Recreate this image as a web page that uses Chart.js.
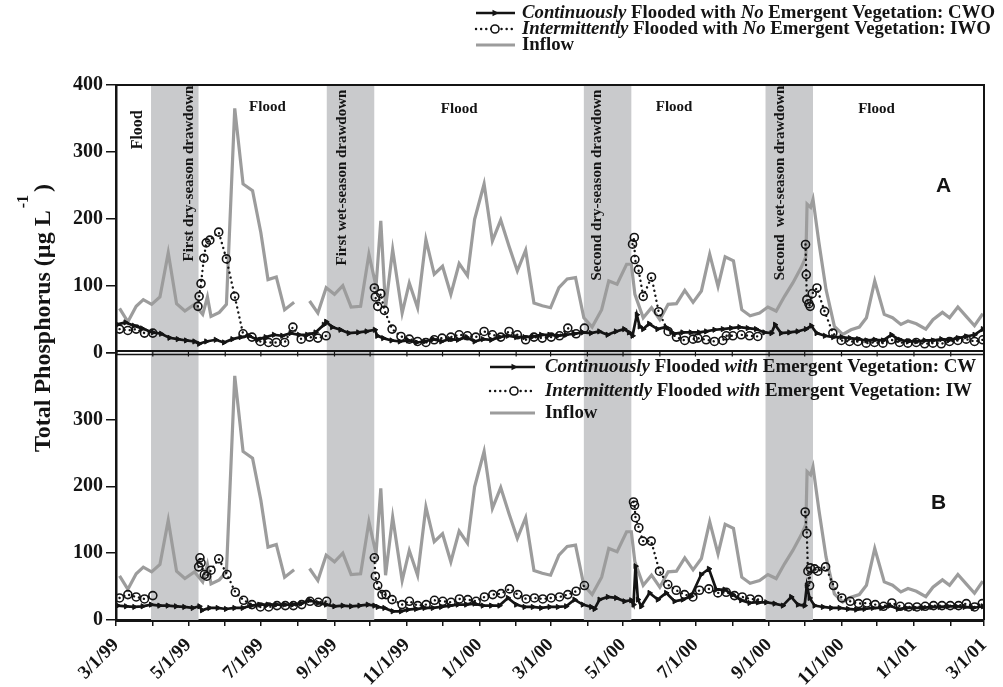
<!DOCTYPE html>
<html><head><meta charset="utf-8">
<script src="https://cdn.jsdelivr.net/npm/chart.js@4.4.0/dist/chart.umd.min.js"></script>
<style>html,body{margin:0;padding:0;background:#fff;}canvas{display:block;}</style>
</head><body>
<canvas id="c" width="1003" height="687"></canvas>
<script>
// ---- x axis: days since 3/1/99 ----
const monthTicks = [0,31,61,92,122,153,184,214,245,275,306,337,366,397,427,458,488,519,550,580,611,641,672,703,731];
const dateLabels = ['3/1/99','5/1/99','7/1/99','9/1/99','11/1/99','1/1/00','3/1/00','5/1/00','7/1/00','9/1/00','11/1/00','1/1/01','3/1/01'];
const yTicks = [0,50,100,150,200,250,300,350,400];
// drawdown periods (day ranges)
const drawdowns = [[29.5,69.5],[177.5,217.5],[394,434],[547,587]];

// ---- series: [day, total P (µg/L)] ----
const inflow = [[3,66],[10,46],[17,69],[23,79],[30,72],[37,83],[44,149],[51,73],[58,62],[66,72],[73,57],[77,83],[80,54],[87,60],[93,72],[100,365],[107,252],[115,242],[122,179],[128,109],[135,113],[142,64],[150,75],[156,null],[163,77],[170,59],[177,97],[184,87],[191,100],[198,68],[206,69],[213,147],[219,99],[223,197],[227,67],[233,154],[241,59],[247,104],[254,67],[261,169],[268,117],[275,129],[282,87],[289,133],[296,115],[302,199],[310,252],[317,167],[324,198],[331,159],[338,122],[345,153],[352,74],[359,70],[366,67],[373,97],[380,110],[387,112],[394,52],[401,38],[409,64],[415,107],[422,102],[430,132],[434,132],[437,87],[444,52],[451,67],[458,49],[465,72],[472,73],[479,93],[486,75],[493,92],[500,147],[507,99],[513,143],[520,137],[527,64],[534,55],[542,59],[549,68],[556,62],[563,84],[570,104],[577,127],[581,143],[582,222],[585,217],[587,229],[592,164],[598,94],[605,39],[612,27],[619,34],[626,38],[632,52],[639,107],[647,57],[654,52],[661,42],[667,47],[674,43],[682,35],[688,49],[696,60],[702,52],[709,68],[716,54],[723,40],[730,58]];

const cwo = [[1,42],[8,45],[15,40],[22,36],[31,30],[38,28],[45,22],[52,20],[59,18],[66,16.5],[70,13],[76,16.5],[84,19],[91,15],[98,20],[105,23],[112,25],[119,19],[126,23],[133,26.5],[140,25],[147,29],[154,26.5],[161,26.5],[168,30],[175,41.5],[177,46],[182,38],[189,34],[196,29],[204,30],[211,31.5],[218,34],[220,25],[225,21.5],[232,18],[239,16.5],[246,18],[253,15],[260,16.5],[267,20],[274,16.5],[281,20],[288,19],[295,23],[302,16.5],[309,20],[316,19],[323,23],[330,25],[337,23],[344,23],[351,24],[358,26.5],[365,26.5],[372,25],[379,26.5],[386,28],[393,30],[400,29],[407,31.5],[414,26.5],[421,31.5],[428,35],[432,30],[435,25],[438.6,56.5],[441,39],[444,35],[449,43],[456,35],[463,38],[470,28],[477,30],[484,30],[491,30],[497,31.5],[504,34],[511,35],[518,36.5],[525,38],[532,36.5],[539,35],[546,30],[552,29],[555,41.5],[560,29],[567,30],[574,31.5],[581,35],[585.5,40],[590,29],[597,25],[604,23],[611,23],[618,21.5],[625,20],[632,18],[639,19],[646,18],[653,26.5],[660,19],[667,16.5],[674,16.5],[681,18],[688,18],[695,20],[702,19],[709,21.5],[716,24],[723,26.5],[730,35]];

const iwo = [[3,35],[10,33],[17,35],[24,29],[31,29],[40,null],[69,69],[70,84],[71.6,103],[74,141],[76,164],[79,168],[86.5,180],[93,140],[100,84],[107,28],[114.5,23],[121.5,16.5],[128.5,15],[135,15],[142,15],[149,38],[156,20],[163,23],[170,21.5],[177,25],[195,null],[217.6,96.5],[218.4,83],[220.4,69],[223,88],[226,63],[232.5,35],[240,24],[247,20],[254,16.5],[261,15],[268,19],[274.6,21.5],[282,23],[289,26.5],[296,25],[303,23],[310,31.5],[317,26.5],[324,23],[331,31.5],[338,26.5],[345,19],[352,23],[359,21.5],[366.5,23],[373.5,25],[380.5,36.5],[387.5,28],[394.5,36.5],[415,null],[435,162],[436.5,172],[437,139],[440,124],[444,84],[451,113],[457,61],[465,31.5],[472,23],[479,18],[486,20],[490,21.5],[497,19],[504,16.5],[511,18],[514,25],[519.5,25],[526.5,26.5],[533.5,25],[540.5,24],[560,null],[580.7,161.5],[581.3,116.5],[581.8,79],[583.5,73],[584.6,69],[586.3,88],[590.3,96.5],[596.7,61.5],[603.7,29],[610.8,18],[617.8,16.5],[624.8,16.5],[631.8,14],[638.8,15],[645.9,14],[652.9,19],[659.9,15],[666.9,14],[673.9,15],[681,13],[688,14],[695,13],[702,16.5],[709,18],[716,20],[723,16.5],[730,19]];

const cw = [[1.4,21.5],[8.4,20.5],[15.4,19.5],[22.4,20.5],[29.5,23],[36.5,21.5],[43.5,21.5],[50.5,20.5],[57.5,19.5],[64.6,18],[70.2,20.5],[72.4,14.5],[78.6,18],[85.6,18],[92.6,16.5],[99.7,18],[106.7,18],[113.7,21.5],[120.7,23],[127.7,23],[134.8,23],[141.8,23],[148.8,23],[155.8,24.5],[162.8,29.5],[169.9,25.5],[176.9,23],[183.9,20.5],[190.9,21.5],[198,20.5],[205,21.5],[212,23],[217.6,21.5],[220.4,19.5],[226,18],[233,13],[240,13],[245.7,15.5],[252.7,16.5],[259.8,18],[266.8,18],[273.8,19.5],[280.8,21.5],[287.8,23],[294.9,23],[301.9,24.5],[308.9,21.5],[315.9,21.5],[322.9,21.5],[330,33],[337,23],[344,19.5],[351,19.5],[358,18],[365.1,19.5],[372.1,19.5],[379.1,20.5],[386.1,30.5],[393.1,23],[400.2,19.5],[403,16.5],[407.2,30.5],[414.2,34.5],[421.2,33],[428.2,28],[433.9,29.5],[435.8,23],[437.5,80.5],[439.5,30.5],[442.3,20.5],[449.3,40.5],[456.3,30.5],[463.3,40.5],[470.4,28],[477.4,30.5],[484.4,35.5],[492.8,68],[499.3,76.5],[505.5,45.5],[512.5,45.5],[519.5,38],[526.5,29.5],[533.5,25.5],[540.6,26.5],[547.6,26.5],[554.6,24.5],[561.6,21.5],[568.6,34.5],[574.3,23],[579.9,21.5],[581.8,51.5],[584.1,33],[588.3,21.5],[595.3,19.5],[602.3,18],[609.4,18],[616.4,16.5],[623.4,15.5],[630.4,16.5],[637.4,18],[644.5,18],[651.5,21.5],[658.5,16.5],[665.5,18],[672.5,18],[679.6,18],[686.6,19.5],[693.6,19.5],[700.6,20.5],[707.6,20.5],[714.7,19.5],[721.7,18],[730.1,20.5]];

const iw = [[3,33],[10,38],[17,34.5],[24,31.5],[31,36.5],[40,null],[69.6,79.5],[70.7,93],[71.6,85.5],[74.4,68],[76.4,65.5],[80,74.5],[86.5,91.5],[93.5,68],[100.5,41.5],[107.5,29.5],[114.5,23],[121.6,19.5],[128.6,19.5],[135.6,21.5],[142.6,21.5],[149.4,21.5],[156.4,23],[163.4,28],[170.4,26.5],[177.4,28],[195,null],[217.6,93],[218.4,65.5],[220.4,51.5],[224,38],[227.4,38],[232.5,30.5],[240.9,23],[247.1,28],[254.1,21.5],[261.2,23],[268.2,29.5],[275.2,28],[282.2,26.5],[289.2,31.5],[296.3,30.5],[303.3,28],[310.3,34.5],[317.3,38],[324.3,39.5],[331.4,46.5],[338.4,38],[345.4,31.5],[352.4,33],[359.4,31.5],[366.5,33],[373.5,34.5],[380.5,38],[387.5,43],[394.5,51.5],[415,null],[435.8,176.5],[436.7,171.5],[437.5,153],[440.3,138],[443.7,118],[450.7,118],[457.7,73],[464.7,53],[471.8,44.5],[478.8,38],[485.8,34.5],[491.4,44.5],[499.3,46.5],[506.9,40.5],[513.9,41.5],[520.9,36.5],[527.4,34.5],[534.1,31.5],[541.1,30.5],[560,null],[580.4,161.5],[581.8,129.5],[582.7,73],[584.1,51.5],[584.7,78],[588.3,76.5],[591.1,73],[597.6,79.5],[604.3,51.5],[611.3,33],[618.3,28],[625.4,24.5],[632.4,25.5],[639.4,23],[646.4,20.5],[653.4,25.5],[660.5,20.5],[667.5,19.5],[674.5,19.5],[681.5,20.5],[688.5,21.5],[695.6,21.5],[702.6,21.5],[709.6,21.5],[716.1,24.5],[723.1,19.5],[729.5,24.5]];

// ---- text ----
const legendA = [
  [['Continuously',true],[' Flooded with ',false],['No',true],[' Emergent Vegetation: CWO',false]],
  [['Intermittently',true],[' Flooded with ',false],['No',true],[' Emergent Vegetation: IWO',false]],
  [['Inflow',false]]
];
const legendB = [
  [['Continuously',true],[' Flooded ',false],['with',true],[' Emergent Vegetation: CW',false]],
  [['Intermittently',true],[' Flooded ',false],['with',true],[' Emergent Vegetation: IW',false]],
  [['Inflow',false]]
];
const phaseLabels = ['First dry-season drawdown','First wet-season drawdown','Second dry-season drawdown','Second  wet-season drawdown'];
const floodLabel = 'Flood';
const yTitle = 'Total Phosphorus (\u00b5g L';
const yTitleSup = '-1';

const SERIF = '"Liberation Serif","Times New Roman",serif';
const SANS = '"Liberation Sans",Arial,sans-serif';
const INK = '#141414';
const GREY = '#9c9c9c';
const BAND = '#c9cacc';

const pts = arr => arr.map(([x,y]) => ({x, y}));

function drawMarker(ctx, kind, x, y) {
  ctx.save();
  if (kind === 'tri') {
    ctx.fillStyle = INK;
    ctx.beginPath(); ctx.moveTo(x+4, y); ctx.lineTo(x-2.5, y-3.2); ctx.lineTo(x-2.5, y+3.2); ctx.closePath(); ctx.fill();
  } else if (kind === 'circ') {
    ctx.strokeStyle = INK; ctx.lineWidth = 1.6; ctx.fillStyle = '#fff';
    ctx.beginPath(); ctx.arc(x, y, 4, 0, Math.PI*2); ctx.fill(); ctx.stroke();
  }
  ctx.restore();
}
function drawSample(ctx, style, x0, x1, y, mx) {
  ctx.save();
  if (style === 'solid') {
    ctx.strokeStyle = INK; ctx.lineWidth = 2.6;
    ctx.beginPath(); ctx.moveTo(x0, y); ctx.lineTo(x1, y); ctx.stroke();
    drawMarker(ctx, 'tri', mx, y);
  } else if (style === 'dot') {
    ctx.strokeStyle = INK; ctx.lineWidth = 2.4; ctx.lineCap = 'round'; ctx.setLineDash([0.1, 5]);
    ctx.beginPath(); ctx.moveTo(x0, y); ctx.lineTo(x1, y); ctx.stroke();
    ctx.setLineDash([]);
    drawMarker(ctx, 'circ', mx, y);
  } else {
    ctx.strokeStyle = GREY; ctx.lineWidth = 3.2;
    ctx.beginPath(); ctx.moveTo(x0, y); ctx.lineTo(x1, y); ctx.stroke();
  }
  ctx.restore();
}
function drawRuns(ctx, runs, x, y, size) {
  let cx = x;
  ctx.fillStyle = INK; ctx.textBaseline = 'middle'; ctx.textAlign = 'left';
  runs.forEach(([t, it]) => {
    ctx.font = (it ? 'italic ' : '') + 'bold ' + size + 'px ' + SERIF;
    ctx.fillText(t, cx, y);
    cx += ctx.measureText(t).width;
  });
}
function drawLegend(ctx, rows, ys, x0, x1, mx, tx, size) {
  const styles = ['solid','dot','grey'];
  rows.forEach((r, i) => {
    drawSample(ctx, styles[i], x0, x1, ys[i], mx);
    drawRuns(ctx, r, tx, ys[i], size);
  });
}

const decor = {
  id: 'decor',
  beforeDatasetsDraw(chart) {
    const {ctx, chartArea: a, scales: {x}} = chart;
    ctx.save();
    ctx.fillStyle = BAND;
    drawdowns.forEach(([s, e]) => {
      const p0 = x.getPixelForValue(s), p1 = x.getPixelForValue(e);
      ctx.fillRect(p0, a.top, p1 - p0, a.bottom - a.top);
    });
    ctx.restore();
  },
  afterDatasetsDraw(chart) {
    const {ctx, scales: {x, yA, yB}} = chart;
    ctx.save();
    ctx.fillStyle = INK;
    ctx.font = 'bold 15px ' + SERIF;
    ctx.textBaseline = 'middle';
    ctx.textAlign = 'center';
    [[127.5,367],[289,364],[470,367],[640.5,364]].forEach(([d,v]) => {
      ctx.fillText(floodLabel, x.getPixelForValue(d), yA.getPixelForValue(v));
    });
    ctx.save();
    ctx.translate(x.getPixelForValue(18), yA.getPixelForValue(333));
    ctx.rotate(-Math.PI/2);
    ctx.font = 'bold 16px ' + SERIF;
    ctx.fillText(floodLabel, 0, 0);
    ctx.restore();
    const anchors = [[61.8,399],[190.6,393],[405.5,393],[559.2,399]];
    phaseLabels.forEach((t, i) => {
      ctx.save();
      ctx.translate(x.getPixelForValue(anchors[i][0]), yA.getPixelForValue(anchors[i][1]));
      ctx.rotate(-Math.PI/2);
      ctx.textAlign = 'right';
      ctx.fillText(t, 0, 0);
      ctx.restore();
    });
    ctx.font = 'bold 21px ' + SANS;
    ctx.textAlign = 'center';
    ctx.fillText('A', x.getPixelForValue(697), yA.getPixelForValue(249));
    ctx.fillText('B', x.getPixelForValue(692.8), yB.getPixelForValue(175));
    ctx.restore();
  },
  afterDraw(chart) {
    const {ctx, chartArea: a, scales: {x, yA}} = chart;
    ctx.save();
    ctx.strokeStyle = INK;
    ctx.lineWidth = 2;
    ctx.beginPath();
    ctx.moveTo(a.left, a.top); ctx.lineTo(a.right, a.top); ctx.lineTo(a.right, a.bottom);
    ctx.stroke();
    const yb = yA.getPixelForValue(0);
    ctx.lineWidth = 2;
    ctx.beginPath(); ctx.moveTo(a.left, yb - 1.5); ctx.lineTo(a.right, yb - 1.5); ctx.stroke();
    ctx.lineWidth = 1.5;
    ctx.beginPath(); ctx.moveTo(a.left, yb + 2); ctx.lineTo(a.right, yb + 2); ctx.stroke();
    ctx.lineWidth = 1.2;
    monthTicks.forEach(d => {
      const px = x.getPixelForValue(d);
      ctx.beginPath(); ctx.moveTo(px, yb - 1.5); ctx.lineTo(px, yb + 4); ctx.stroke();
    });
    ctx.restore();
    ctx.save();
    drawLegend(ctx, legendA, [13,29,45], 476, 515, 495, 522, 18.8);
    drawLegend(ctx, legendB, [367,391,413], 490, 535, 514, 545, 18.9);
    ctx.restore();
    ctx.save();
    ctx.fillStyle = INK;
    ctx.translate(50, 452);
    ctx.rotate(-Math.PI/2);
    ctx.textAlign = 'left'; ctx.textBaseline = 'alphabetic';
    ctx.font = 'bold 24px ' + SERIF;
    ctx.fillText(yTitle, 0, 0);
    let w = ctx.measureText(yTitle).width + 2;
    ctx.font = 'bold 16px ' + SERIF;
    ctx.fillText(yTitleSup, w, -22);
    w += ctx.measureText(yTitleSup).width + 3;
    ctx.font = 'bold 24px ' + SERIF;
    ctx.fillText(')', w, 0);
    ctx.restore();
  }
};

const yCommon = (hideTop) => ({
  type: 'linear', position: 'left', stack: 'panels', stackWeight: 1,
  min: 0, max: 400,
  afterBuildTicks: s => { s.ticks = yTicks.map(v => ({value: v})); },
  afterFit: s => { s.width = 116; s.paddingTop = 0; s.paddingBottom = 0; },
  grid: {drawOnChartArea: false, drawTicks: true, tickLength: 10, color: INK, lineWidth: 1.5},
  border: {display: true, color: INK, width: 2.5},
  ticks: {
    padding: 3, color: INK, font: {family: SERIF, size: 20, weight: 'bold'},
    callback: v => (v % 100 === 0 && !(hideTop && v === 400)) ? String(v) : ''
  }
});

const lineBase = {tension: 0, spanGaps: false, fill: false};
new Chart(document.getElementById('c'), {
  type: 'line',
  data: {
    datasets: [
      Object.assign({label: 'IWO', data: pts(iwo), yAxisID: 'yA', order: 1, borderColor: INK, borderWidth: 2.4, borderDash: [0.1, 5], borderCapStyle: 'round',
        pointStyle: 'circle', pointRadius: 4, pointBorderWidth: 1.6, pointBorderColor: INK, pointBackgroundColor: 'rgba(255,255,255,0)'}, lineBase),
      Object.assign({label: 'CWO', data: pts(cwo), yAxisID: 'yA', order: 2, borderColor: INK, borderWidth: 2.7,
        pointStyle: 'triangle', pointRotation: 90, pointRadius: 3, pointBorderWidth: 1, pointBorderColor: INK, pointBackgroundColor: INK}, lineBase),
      Object.assign({label: 'Inflow', data: pts(inflow), yAxisID: 'yA', order: 3, borderColor: GREY, borderWidth: 3.2, pointRadius: 0}, lineBase),
      Object.assign({label: 'IW', data: pts(iw), yAxisID: 'yB', order: 1, borderColor: INK, borderWidth: 2.4, borderDash: [0.1, 5], borderCapStyle: 'round',
        pointStyle: 'circle', pointRadius: 4, pointBorderWidth: 1.6, pointBorderColor: INK, pointBackgroundColor: 'rgba(255,255,255,0)'}, lineBase),
      Object.assign({label: 'CW', data: pts(cw), yAxisID: 'yB', order: 2, borderColor: INK, borderWidth: 2.7,
        pointStyle: 'triangle', pointRotation: 90, pointRadius: 3, pointBorderWidth: 1, pointBorderColor: INK, pointBackgroundColor: INK}, lineBase),
      Object.assign({label: 'Inflow', data: pts(inflow), yAxisID: 'yB', order: 3, borderColor: GREY, borderWidth: 3.2, pointRadius: 0}, lineBase)
    ]
  },
  options: {
    responsive: false, animation: false, devicePixelRatio: 1,
    layout: {padding: {top: 85, right: 19, left: 0, bottom: 0}},
    plugins: {legend: {display: false}, tooltip: {enabled: false}},
    scales: {
      x: {
        type: 'linear', min: 0, max: 731,
        afterBuildTicks: s => { s.ticks = monthTicks.map(v => ({value: v})); },
        afterFit: s => { s.height = 67; s.paddingLeft = 0; s.paddingRight = 0; },
        grid: {drawOnChartArea: false, drawTicks: true, tickLength: 6, color: INK, lineWidth: 1.5},
        border: {display: true, color: INK, width: 3},
        ticks: {
          autoSkip: false, minRotation: 45, maxRotation: 45, padding: 8, color: INK,
          font: {family: SERIF, size: 19, weight: 'bold'},
          callback: v => { const i = monthTicks.indexOf(v); return (i >= 0 && i % 2 === 0) ? dateLabels[i / 2] : ''; }
        }
      },
      yB: yCommon(true),
      yA: yCommon(false)
    }
  },
  plugins: [decor]
});
</script>
</body></html>
